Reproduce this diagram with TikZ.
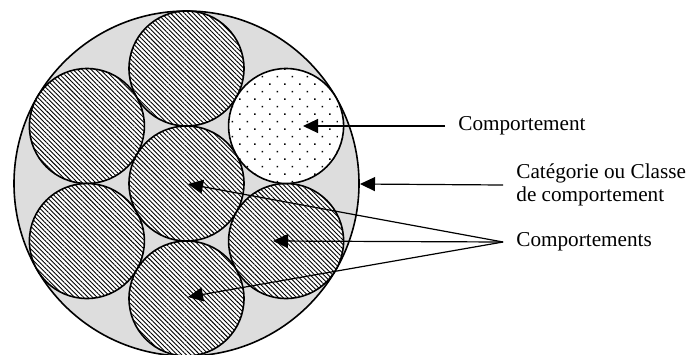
\documentclass[tikz,border=0pt]{standalone}
\usepackage{fontspec}
\setmainfont{Liberation Serif}
\usetikzlibrary{arrows.meta, patterns.meta}
\tikzset{>={Triangle[length=7.5pt,width=7pt]}}
\definecolor{mygray2}{RGB}{221, 221, 221}
\tikzset{
  hatched/.style={draw, line width=.8pt, preaction={fill=white},
    pattern={Lines[angle=-45,distance=1.6pt,line width=.45pt]}},
  stippled/.style={draw, line width=.8pt, preaction={fill=white},
    pattern={Dots[angle=45,distance=5.3pt,radius=.5pt]}},
  lbl/.style={anchor=west, inner xsep=6.5pt, inner ysep=0pt, align=left,
    font=\fontsize{10.6}{11.5}\selectfont}
}

\begin{document}
\begin{tikzpicture}[x=0.5pt, y=-0.5pt]
\useasboundingbox (0,0) rectangle (690,354);
\coordinate (o) at (186.5,183.5);
\draw[line width=.8pt, fill = mygray2] (o) circle (86.25pt);
% the seven cells
\coordinate (top) at (186.5,68.5);
\coordinate (bot) at (186.5,298.5);
\coordinate (ul) at (86.9,126);
\coordinate (ll) at (86.9,241);
\coordinate (ur) at (286.1,126);
\coordinate (lr) at (286.1,241);
\draw[hatched] (top) circle (28.75pt);
\draw[hatched] (ul) circle (28.75pt);
\draw[hatched] (ll) circle (28.75pt);
\draw[hatched] (o) circle (28.75pt);
\draw[hatched] (lr) circle (28.75pt);
\draw[hatched] (bot) circle (28.75pt);
\draw[stippled] (ur) circle (28.75pt);
% arrow tips
\coordinate (tipUR) at (303,126);
\coordinate (tipO) at (188,184);
\coordinate (tipLR) at (273,241);
\coordinate (tipB) at (188,297);
\coordinate (rim) at (360,184);
% labels
\node[lbl] (one) at (445,126) {Comportement};
\node[lbl] (cat) at (503,185) {Catégorie ou Classe\\de comportement};
\node[lbl] (many) at (503,242) {Comportements};
\draw[->, line width=.6pt] (one.west) -- (tipUR);
\draw[->, line width=.6pt] (cat.west) -- (rim);
\draw[->, line width=.6pt] (many.west) -- (tipO);
\draw[->, line width=.6pt] (many.west) -- (tipLR);
\draw[->, line width=.6pt] (many.west) -- (tipB);
\end{tikzpicture}
\end{document}
